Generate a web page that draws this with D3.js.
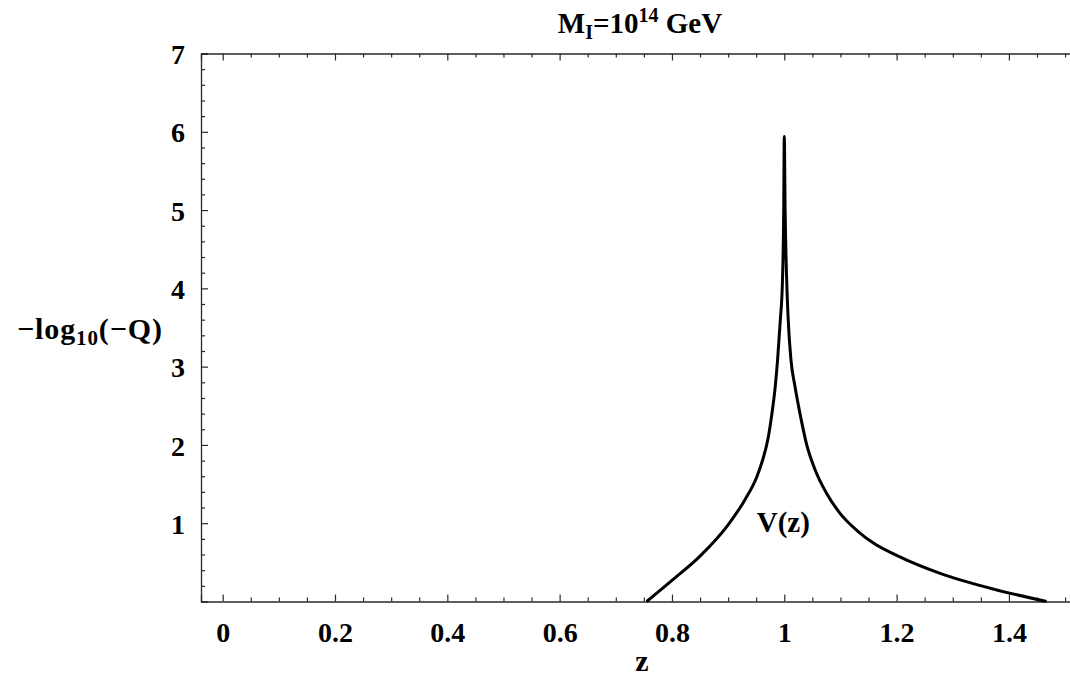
<!DOCTYPE html>
<html>
<head>
<meta charset="utf-8">
<script src="https://cdn.jsdelivr.net/npm/d3@7"></script>
<style>
  html, body { margin: 0; padding: 0; background: #fff; }
  svg { display: block; }
  text { font-family: "Liberation Serif", "Times New Roman", serif; font-weight: bold; fill: #000; }
</style>
</head>
<body>
<svg id="chart" width="1070" height="679"></svg>
<script>
// ---- data ----
const zValues = [0.755, 0.80, 0.85, 0.90, 0.93, 0.951, 0.962, 0.971, 0.978, 0.984, 0.988, 0.993, 0.9966, 0.999, 1.0,
                 1.0015, 1.0045, 1.007, 1.012, 1.019, 1.028, 1.040, 1.055, 1.0755, 1.10, 1.129, 1.16, 1.20, 1.2775, 1.3665, 1.467];
const vValues = [0.0, 0.27, 0.58, 0.98, 1.30, 1.59, 1.82, 2.08, 2.40, 2.75, 3.08, 3.60, 4.06, 5.0, 5.94,
                 5.0, 4.06, 3.60, 3.08, 2.75, 2.40, 2.00, 1.68, 1.38, 1.12, 0.91, 0.74, 0.59, 0.36, 0.17, 0.0];
const xTickValues = [0, 0.2, 0.4, 0.6, 0.8, 1.0, 1.2, 1.4];
const xTickLabels = ["0", "0.2", "0.4", "0.6", "0.8", "1", "1.2", "1.4"];
const yTickValues = [1, 2, 3, 4, 5, 6, 7];
const yTickLabels = ["1", "2", "3", "4", "5", "6", "7"];
const curveLabel = "V(z)";
const curveLabelPos = [1.0, 0.95];

const svg = d3.select("#chart");
const x = d3.scaleLinear().domain([-0.0386, 1.53]).range([201, 201 + 1.5686 * 561.6]);
const y = d3.scaleLinear().domain([0, 7]).range([601.5, 53.5]);

const xMinor = d3.range(0, 1.5001, 0.05).filter(v => !xTickValues.some(t => Math.abs(t - v) < 1e-6));
const yMinor = d3.range(0.2, 7.0001, 0.2).filter(v => !yTickValues.some(t => Math.abs(t - v) < 1e-6));

const axisColor = "#2a2a2a";
function styleAxis(g) {
  g.select(".domain").attr("stroke", axisColor).attr("stroke-width", 1.3);
  g.selectAll(".tick line").attr("stroke", axisColor).attr("stroke-width", 1.2);
  g.selectAll(".tick text").style("font-size", "28px").style("font-family", "Liberation Serif").style("font-weight", "bold").attr("fill", "#000");
}

// bottom axis
const gB = svg.append("g").attr("transform", `translate(0,${y(0)})`)
  .call(d3.axisBottom(x).tickValues(xTickValues).tickSize(-7).tickPadding(21)
    .tickFormat((d, i) => xTickLabels[i]));
styleAxis(gB);
const gBm = svg.append("g").attr("transform", `translate(0,${y(0)})`)
  .call(d3.axisBottom(x).tickValues(xMinor).tickSize(-4).tickFormat(""));
styleAxis(gBm); gBm.select(".domain").remove();

// top axis
const gT = svg.append("g").attr("transform", `translate(0,${y(7)})`)
  .call(d3.axisTop(x).tickValues(xTickValues).tickSize(-7).tickFormat(""));
styleAxis(gT);
const gTm = svg.append("g").attr("transform", `translate(0,${y(7)})`)
  .call(d3.axisTop(x).tickValues(xMinor).tickSize(-4).tickFormat(""));
styleAxis(gTm); gTm.select(".domain").remove();

// left axis
const gL = svg.append("g").attr("transform", `translate(${x.range()[0]},0)`)
  .call(d3.axisLeft(y).tickValues(yTickValues).tickSize(-7).tickPadding(16)
    .tickFormat((d, i) => yTickLabels[i]));
styleAxis(gL);
gL.selectAll(".tick text").attr("dy", "0.36em");
const gLm = svg.append("g").attr("transform", `translate(${x.range()[0]},0)`)
  .call(d3.axisLeft(y).tickValues(yMinor).tickSize(-4).tickFormat(""));
styleAxis(gLm); gLm.select(".domain").remove();

// curve
const pts = zValues.map((z, i) => [z, vValues[i]]);
svg.append("path")
  .datum(pts)
  .attr("fill", "none")
  .attr("stroke", "#000")
  .attr("stroke-width", 3)
  .attr("stroke-linejoin", "round")
  .attr("d", d3.line().curve(d3.curveMonotoneX).x(d => x(d[0])).y(d => y(d[1])));

// curve label
svg.append("text")
  .attr("x", x(curveLabelPos[0]) - 1)
  .attr("y", y(curveLabelPos[1]) + 5)
  .attr("text-anchor", "middle")
  .style("font-size", "29px")
  .text(curveLabel);

// title
const title = svg.append("text")
  .attr("x", 640).attr("y", 33)
  .attr("text-anchor", "middle")
  .style("font-size", "29px");
title.append("tspan").text("M");
title.append("tspan").attr("dy", 6).style("font-size", "20px").text("I");
title.append("tspan").attr("dy", -6).text("=10");
title.append("tspan").attr("dy", -11).style("font-size", "20px").text("14");
title.append("tspan").attr("dy", 11).text(" GeV");

// y label
const yl = svg.append("text")
  .attr("x", 17).attr("y", 339)
  .attr("textLength", 145)
  .attr("lengthAdjust", "spacing")
  .style("font-size", "30px");
yl.append("tspan").text("\u2212log");
yl.append("tspan").attr("dy", 6).style("font-size", "21px").text("10");
yl.append("tspan").attr("dy", -6).text("(\u2212Q)");

// x label
svg.append("text")
  .attr("x", 642).attr("y", 671)
  .attr("text-anchor", "middle")
  .style("font-size", "30px")
  .text("z");
</script>
</body>
</html>
